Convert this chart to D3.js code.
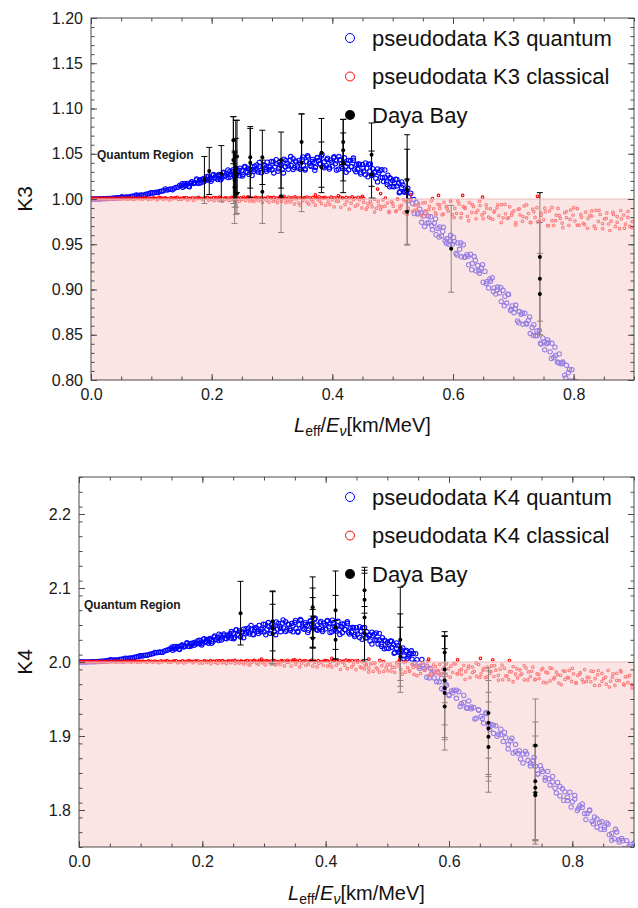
<!DOCTYPE html>
<html>
<head>
<meta charset="utf-8">
<script src="https://cdn.jsdelivr.net/npm/d3@7"></script>
<style>
  body { margin: 0; background: #fff; }
  svg text { font-family: "Liberation Sans", Arial, sans-serif; }
</style>
</head>
<body>
<svg id="chart" width="638" height="908"></svg>
<script>
// ---- data ----
const xTicks = [0, 0.2, 0.4, 0.6, 0.8];
const k3Ticks = [0.80, 0.85, 0.90, 0.95, 1.00, 1.05, 1.10, 1.15, 1.20];
const k4Ticks = [1.8, 1.9, 2.0, 2.1, 2.2];
const k3Legend = ['pseudodata K3 quantum', 'pseudodata K3 classical', 'Daya Bay'];
const k4Legend = ['pseudodata K4 quantum', 'pseudodata K4 classical', 'Daya Bay'];

// pseudodata K3 quantum [L/E, K3]
const k3Quantum = [
  [0,1.0000],[.006,1.0000],[.012,1.0001],[.018,1.0002],[.024,1.0004],[.030,1.0006],[.036,1.0008],[.042,1.0011],[.048,1.0015],[.054,1.0018],
  [.060,1.0023],[.066,1.0027],[.072,1.0033],[.078,1.0038],[.084,1.0045],[.090,1.0051],[.096,1.0058],[.102,1.0066],[.108,1.0074],[.114,1.0082],
  [.120,1.0091],[.126,1.0100],[.132,1.0110],[.138,1.0120],[.144,1.0131],
  [.051,1.0024],[.063,1.0016],[.075,1.0044],[.087,1.0040],[.099,1.0070],[.111,1.0071],[.123,1.0110],[.135,1.0103],[.147,1.0150],
  [.003,1.0000],[.009,1.0001],[.015,1.0001],[.021,1.0003],[.027,1.0005],[.033,1.0007],[.039,1.0010],[.045,1.0013],[.057,1.0020],[.069,1.0030],
  [.081,1.0041],[.093,1.0055],[.105,1.0069],[.117,1.0087],[.129,1.0105],[.141,1.0126],
  [.150,1.0149],[.152,1.0130],[.155,1.0171],[.157,1.0151],[.160,1.0171],[.162,1.0144],[.165,1.0172],[.167,1.0188],[.170,1.0170],[.172,1.0181],
  [.175,1.0211],[.177,1.0175],[.180,1.0209],[.182,1.0179],[.185,1.0213],[.187,1.0227],[.190,1.0207],[.192,1.0246],[.195,1.0209],[.197,1.0227],
  [.200,1.0214],[.202,1.0263],[.205,1.0236],[.207,1.0257],[.210,1.0215],[.212,1.0271],[.215,1.0255],[.217,1.0233],[.220,1.0297],[.222,1.0254],
  [.225,1.0277],[.227,1.0238],[.230,1.0305],[.232,1.0271],[.235,1.0321],[.237,1.0261],[.240,1.0303],[.242,1.0275],[.245,1.0317],[.247,1.0256],
  [.250,1.0317],[.252,1.0270],[.255,1.0353],[.257,1.0301],[.260,1.0340],[.262,1.0272],[.265,1.0326],[.267,1.0358],[.270,1.0306],[.272,1.0323],
  [.275,1.0377],[.277,1.0299],[.280,1.0360],[.282,1.0293],[.285,1.0354],[.287,1.0379],[.290,1.0330],[.292,1.0407],[.295,1.0323],[.297,1.0354],
  [.300,1.0324],[.302,1.0411],[.305,1.0355],[.307,1.0389],[.310,1.0307],[.312,1.0407],[.315,1.0371],[.317,1.0326],[.320,1.0440],[.322,1.0357],
  [.325,1.0392],[.327,1.0328],[.330,1.0429],[.332,1.0371],[.335,1.0445],[.337,1.0349],[.340,1.0410],[.342,1.0365],[.345,1.0426],[.347,1.0329],
  [.350,1.0437],[.352,1.0368],[.355,1.0335],[.357,1.0413],[.360,1.0463],[.362,1.0394],[.365,1.0359],[.367,1.0437],[.370,1.0403],[.372,1.0347],
  [.375,1.0460],[.377,1.0425],[.380,1.0384],[.382,1.0475],[.385,1.0355],[.387,1.0411],[.390,1.0368],[.392,1.0451],[.395,1.0331],[.397,1.0429],
  [.400,1.0365],[.402,1.0455],[.405,1.0389],[.407,1.0423],[.410,1.0330],[.412,1.0433],[.415,1.0389],[.417,1.0338],[.420,1.0455],[.422,1.0362],
  [.425,1.0393],[.427,1.0321],[.430,1.0422],[.432,1.0356],[.435,1.0429],[.437,1.0322],[.440,1.0381],[.442,1.0328],[.445,1.0385],[.447,1.0276],
  [.450,1.0382],[.452,1.0308],[.455,1.0267],[.457,1.0340],[.460,1.0383],[.462,1.0307],[.465,1.0263],[.467,1.0334],[.470,1.0290],[.472,1.0228],
  [.475,1.0331],[.477,1.0290],[.480,1.0239],[.482,1.0323],[.485,1.0192],[.487,1.0241],[.490,1.0188],[.492,1.0264],[.495,1.0134],[.497,1.0224],
  [.500,1.0203],[.502,1.0135],[.505,1.0218],[.507,1.0143],[.510,1.0173],[.512,1.0080],[.515,1.0127],[.517,1.0155],[.520,1.0076],[.522,1.0082],
  [.525,1.0118],[.527,1.0022],[.530,1.0064],
  [.151,1.0169],[.155,1.0140],[.159,1.0163],[.163,1.0136],[.167,1.0191],[.171,1.0176],[.175,1.0222],[.179,1.0173],[.183,1.0215],[.187,1.0190],
  [.191,1.0219],[.195,1.0252],[.199,1.0196],[.203,1.0272],[.207,1.0228],[.211,1.0256],[.215,1.0212],[.219,1.0287],[.223,1.0259],[.227,1.0320],
  [.231,1.0244],[.235,1.0302],[.239,1.0260],[.243,1.0297],[.247,1.0341],[.251,1.0253],[.255,1.0360],[.259,1.0292],[.263,1.0327],[.267,1.0260],
  [.271,1.0363],[.275,1.0320],[.279,1.0403],[.283,1.0293],[.287,1.0370],[.291,1.0306],[.295,1.0356],[.299,1.0416],[.303,1.0288],[.307,1.0435],
  [.311,1.0335],[.315,1.0385],[.319,1.0288],[.323,1.0427],[.327,1.0366],[.331,1.0469],[.335,1.0327],[.339,1.0421],[.343,1.0342],[.347,1.0399],
  [.351,1.0464],[.355,1.0321],[.359,1.0477],[.363,1.0369],[.367,1.0416],[.371,1.0317],[.375,1.0454],[.379,1.0391],[.383,1.0491],[.387,1.0345],
  [.391,1.0435],[.395,1.0351],[.399,1.0405],[.403,1.0466],[.407,1.0318],[.411,1.0469],[.415,1.0357],[.419,1.0400],[.423,1.0295],[.427,1.0427],
  [.431,1.0358],[.435,1.0452],[.439,1.0302],[.443,1.0386],[.447,1.0296],[.451,1.0343],[.455,1.0398],[.459,1.0245],[.463,1.0388],[.467,1.0267],
  [.471,1.0301],[.475,1.0189],[.479,1.0313],[.483,1.0235],[.487,1.0320],[.491,1.0160],[.495,1.0236],[.499,1.0139],[.503,1.0176],[.507,1.0215],
  [.511,1.0070],[.515,1.0189],[.519,1.0076],[.523,1.0094],[.527,0.9982],
  [.533,0.9950],[.536,0.9840],[.539,0.9964],[.542,0.9845],[.545,0.9888],[.548,0.9742],[.551,0.9813],[.554,0.9849],[.557,0.9732],[.560,0.9741],
  [.563,0.9804],[.566,0.9660],[.569,0.9732],[.572,0.9605],[.575,0.9675],[.578,0.9692],[.581,0.9591],[.584,0.9689],[.587,0.9535],[.590,0.9560],
  [.593,0.9499],[.596,0.9599],[.599,0.9502],[.602,0.9530],[.605,0.9397],[.608,0.9515],[.611,0.9444],[.614,0.9361],[.617,0.9495],[.620,0.9358],
  [.623,0.9384],[.626,0.9274],[.629,0.9390],[.632,0.9287],[.635,0.9364],[.638,0.9206],[.641,0.9265],[.644,0.9179],[.647,0.9238],[.650,0.9080],
  [.653,0.9200],[.656,0.9086],[.659,0.9017],[.662,0.9092],[.665,0.9131],[.668,0.9017],[.671,0.8949],[.674,0.9027],[.677,0.8961],[.680,0.8868],
  [.683,0.8991],[.686,0.8925],[.689,0.8850],[.692,0.8945],[.695,0.8770],[.698,0.8819],[.701,0.8743],[.704,0.8828],[.707,0.8653],[.710,0.8756],
  [.713,0.8726],[.716,0.8615],[.719,0.8738],[.722,0.8618],[.725,0.8660],[.728,0.8513],[.731,0.8581],[.734,0.8611],[.737,0.8488],[.740,0.8491],
  [.743,0.8548],[.746,0.8398],[.749,0.8464],[.752,0.8333],[.755,0.8401],[.758,0.8414],[.761,0.8311],[.764,0.8405],[.767,0.8248],[.770,0.8270],
  [.773,0.8198],[.776,0.8288],[.779,0.8180],[.782,0.8198],[.785,0.8054],[.788,0.8162],[.791,0.8080],[.794,0.7989],[.797,0.8113],[.800,0.7968],
  [.803,0.7985],[.806,0.7866],[.809,0.7973],[.812,0.7863],
  [.535,0.9995],[.541,0.9835],[.547,0.9845],[.553,0.9697],[.559,0.9811],[.565,0.9705],[.571,0.9779],[.577,0.9580],[.583,0.9641],[.589,0.9512],
  [.595,0.9537],[.601,0.9575],[.607,0.9382],[.613,0.9515],[.619,0.9356],[.625,0.9368],[.631,0.9218],[.637,0.9323],[.643,0.9208],[.649,0.9273],
  [.655,0.9065],[.661,0.9117],[.667,0.8979],[.673,0.8994],[.679,0.9022],[.685,0.8820],[.691,0.8948],[.697,0.8783],[.703,0.8788],[.709,0.8633],
  [.715,0.8740],[.721,0.8628],[.727,0.8696],[.733,0.8491],[.739,0.8543],[.745,0.8405],[.751,0.8418],[.757,0.8443],[.763,0.8238],[.769,0.8363],
  [.775,0.8190],[.781,0.8186],[.787,0.8022],[.793,0.8117],[.799,0.7990],[.805,0.7958]
];

// pseudodata K3 classical [L/E, K3]
const k3Classical = [
  [0,1.0000],[.005,1.0001],[.010,0.9999],[.015,1.0002],[.020,1.0000],[.025,1.0002],[.030,0.9998],[.035,1.0001],[.040,1.0003],[.045,0.9999],
  [.050,1.0000],[.055,1.0004],[.060,0.9997],[.065,1.0002],[.070,0.9996],[.075,1.0003],[.080,1.0004],[.085,0.9998],[.090,1.0007],[.095,0.9996],
  [.100,1.0001],[.105,1.0006],[.110,0.9993],[.115,1.0008],[.120,0.9998],[.125,1.0005],[.130,0.9990],[.135,1.0002],[.140,1.0009],[.145,0.9995],
  [.150,0.9998],[.155,1.0010],[.160,0.9989],[.165,1.0005],[.170,0.9986],[.175,1.0003],[.180,1.0008],[.185,0.9992],[.190,1.0013],[.195,0.9988],
  [.200,1.0001],[.204,0.9981],[.207,1.0013],[.211,0.9990],[.214,1.0004],[.218,0.9975],[.221,0.9995],[.225,1.0007],[.228,0.9985],[.232,0.9990],
  [.235,1.0008],[.239,0.9980],[.242,0.9999],[.246,0.9975],[.249,0.9994],[.253,1.0002],[.256,0.9984],[.260,1.0009],[.263,0.9979],[.267,0.9989],
  [.270,0.9973],[.274,1.0011],[.277,0.9984],[.281,0.9999],[.284,0.9960],[.288,1.0004],[.291,0.9986],[.295,0.9965],[.298,1.0015],[.302,0.9976],
  [.305,0.9990],[.309,0.9959],[.312,1.0003],[.316,0.9975],[.319,1.0007],[.323,0.9962],[.326,0.9988],[.330,0.9966],[.333,0.9992],[.337,0.9946],
  [.340,1.0002],[.344,0.9956],[.347,0.9932],[.351,0.9981],[.354,1.0013],[.358,0.9966],[.361,0.9943],[.365,0.9992],[.368,0.9969],[.372,0.9932],
  [.375,1.0002],[.379,0.9979],[.382,0.9950],[.386,1.0009],[.389,0.9931],[.393,0.9967],[.396,0.9938],[.400,0.9992],[.403,0.9914],[.407,0.9975],
  [.410,0.9976],[.414,0.9909],[.417,1.0009],[.421,0.9938],[.424,0.9977],[.428,0.9888],[.431,0.9954],[.435,0.9992],[.438,0.9919],[.442,0.9937],
  [.445,0.9992],[.449,0.9901],[.452,0.9965],[.456,0.9886],[.459,0.9950],[.463,0.9974],[.466,0.9914],[.470,0.9997],[.473,0.9898],[.477,0.9930],
  [.480,0.9888],[.484,0.9991],[.487,0.9918],[.491,0.9956],[.494,0.9850],[.498,0.9969],[.501,0.9920],[.505,0.9862],[.508,0.9998],[.512,0.9893],
  [.515,0.9931],[.519,0.9851],[.522,0.9970],[.526,0.9896],[.529,0.9983],[.533,0.9862],[.536,0.9933],[.540,0.9876],[.543,0.9948],[.547,0.9826],
  [.550,0.9958],[.554,0.9869],[.557,0.9824],[.561,0.9920],[.564,0.9980],[.568,0.9892],[.571,0.9846],[.575,0.9942],[.578,0.9896],[.582,0.9825],
  [.585,0.9964],[.589,0.9918],[.592,0.9866],[.596,0.9979],[.599,0.9828],[.603,0.9897],[.606,0.9842],[.610,0.9946],[.613,0.9794],[.617,0.9915],
  [.620,0.9907],[.624,0.9809],[.627,0.9960],[.631,0.9853],[.634,0.9916],[.638,0.9781],[.641,0.9875],[.645,0.9928],[.648,0.9824],[.652,0.9850],
  [.655,0.9936],[.659,0.9799],[.662,0.9892],[.666,0.9776],[.669,0.9867],[.673,0.9903],[.676,0.9815],[.680,0.9937],[.683,0.9792],[.687,0.9837],
  [.690,0.9786],[.694,0.9914],[.697,0.9821],[.701,0.9870],[.704,0.9739],[.708,0.9887],[.711,0.9826],[.715,0.9754],[.718,0.9923],[.722,0.9791],
  [.725,0.9840],[.729,0.9739],[.732,0.9888],[.736,0.9796],[.739,0.9904],[.743,0.9753],[.746,0.9843],[.750,0.9770],[.753,0.9859],[.757,0.9707],
  [.760,0.9869],[.764,0.9762],[.767,0.9708],[.771,0.9822],[.774,0.9896],[.778,0.9787],[.781,0.9734],[.785,0.9848],[.788,0.9795],[.792,0.9710],
  [.795,0.9878],[.799,0.9823],[.802,0.9757],[.806,0.9893],[.809,0.9711],[.813,0.9797],[.816,0.9732],[.820,0.9856],[.823,0.9677],[.827,0.9820],
  [.830,0.9811],[.834,0.9700],[.837,0.9875],[.841,0.9752],[.844,0.9829],[.848,0.9673],[.851,0.9781],[.855,0.9846],[.858,0.9724],[.862,0.9755],
  [.865,0.9852],[.869,0.9697],[.872,0.9806],[.876,0.9672],[.879,0.9782],[.883,0.9823],[.886,0.9723],[.890,0.9864],[.893,0.9697],[.897,0.9751],
  [.003,1.0006],[.008,1.0009],[.013,1.0004],[.018,1.0011],[.023,1.0007],[.028,1.0013],[.033,1.0005],[.038,1.0010],[.043,1.0008],[.048,1.0014],
  [.053,1.0006],[.058,1.0011],[.063,1.0009],[.068,1.0015],[.073,1.0005],[.078,1.0012],[.083,1.0008],[.088,1.0016],[.093,1.0007],[.098,1.0011],
  [.103,1.0013],[.108,1.0006],[.113,1.0017],[.118,1.0009],[.123,1.0012],[.128,1.0005],[.133,1.0015],[.138,1.0010],[.143,1.0018],[.148,1.0007],
  [.153,1.0012],[.158,1.0016],[.163,1.0006],[.168,1.0014],[.173,1.0010],[.178,1.0019],[.183,1.0008],[.188,1.0013],[.193,1.0017],[.198,1.0006],
  [.203,1.0015],[.208,1.0010],[.213,1.0020],[.218,1.0008],[.223,1.0014],[.228,1.0011],[.233,1.0018],[.238,1.0007],[.243,1.0016],[.248,1.0012],
  [.253,1.0021],[.258,1.0009],[.263,1.0015],[.268,1.0006],[.273,1.0019],[.278,1.0012],[.283,1.0016],[.288,1.0008],[.293,1.0022],[.298,1.0011],
  [.303,1.0017],[.308,1.0009],[.313,1.0020],[.318,1.0013],[.323,1.0007],[.328,1.0018],[.333,1.0012],[.338,1.0023],[.343,1.0010],[.348,1.0016],
  [.353,1.0008],[.358,1.0021],[.363,1.0013],[.368,1.0017],[.373,1.0009],[.378,1.0024],[.383,1.0012],[.388,1.0018],[.393,1.0007],[.398,1.0020],
  [.403,1.0014],[.408,1.0010],[.413,1.0022],[.418,1.0008],[.423,1.0017],[.428,1.0012],[.433,1.0025],[.438,1.0009],[.443,1.0019],[.448,1.0013],
  [.452,1.0007],[.458,0.9909],[.464,0.9946],[.470,0.9856],[.476,0.9974],[.482,0.9915],[.488,1.0011],[.494,0.9863],[.500,0.9952],[.506,0.9868],
  [.512,0.9921],[.518,0.9990],[.524,0.9828],[.530,0.9996],[.536,0.9874],[.542,0.9922],[.548,0.9811],[.554,0.9959],[.560,0.9885],[.566,1.0005],
  [.572,0.9826],[.578,0.9936],[.584,0.9834],[.590,0.9899],[.596,0.9974],[.602,0.9795],[.608,0.9979],[.614,0.9840],[.620,0.9896],[.626,0.9760],
  [.632,0.9937],[.638,0.9849],[.644,0.9978],[.650,0.9782],[.656,0.9898],[.662,0.9787],[.668,0.9855],[.674,0.9936],[.680,0.9740],[.686,0.9940],
  [.692,0.9793],[.698,0.9849],[.704,0.9714],[.710,0.9892],[.716,0.9806],[.722,0.9935],[.728,0.9741],[.734,0.9858],[.740,0.9748],[.746,0.9818],
  [.752,0.9899],[.758,0.9705],[.764,0.9907],[.770,0.9760],[.776,0.9818],[.782,0.9683],[.788,0.9861],[.794,0.9774],[.800,0.9904],[.806,0.9710],
  [.812,0.9827],[.818,0.9717],[.824,0.9786],[.830,0.9868],[.836,0.9674],[.842,0.9875],[.848,0.9729],[.854,0.9786],[.860,0.9652],[.866,0.9830],
  [.872,0.9743],[.878,0.9873],[.884,0.9678],[.890,0.9796],[.896,0.9686],
  [.260,1.0025],[.320,1.0030],[.372,1.0045],[.410,1.0035],[.450,1.0030],[.475,1.0110],[.480,1.0060],[.530,1.0050],[.576,1.0040],[.616,1.0040],
  [.649,1.0020],[.740,1.0030]
];

// Daya Bay K3 [L/E, K3, error]
const k3Daya = [
  [.188,1.021,.026],[.196,1.031,.026],[.216,1.028,.031],
  [.236,1.043,.048],[.236,1.065,.026],[.238,1.021,.030],[.238,1.013,.040],[.240,1.035,.052],[.240,1.029,.038],[.242,1.047,.040],[.242,1.006,.022],
  [.264,1.046,.034],[.264,1.040,.038],[.284,1.046,.030],[.284,1.008,.035],[.315,1.043,.031],[.315,1.003,.040],
  [.349,1.063,.031],[.349,1.040,.054],[.382,1.051,.038],[.382,1.035,.028],
  [.418,1.063,.025],[.418,1.054,.034],[.418,1.040,.033],[.465,1.049,.035],[.465,1.027,.026],
  [.524,1.010,.061],[.524,1.021,.034],[.524,0.986,.036],[.597,0.945,.048],
  [.744,0.936,.071],[.744,0.912,.062],[.744,0.895,.045]
];

// pseudodata K4 quantum [L/E, K4]
const k4Quantum = [
  [0,2.0000],[.006,2.0000],[.012,2.0001],[.018,2.0002],[.024,2.0004],[.030,2.0007],[.036,2.0010],[.042,2.0014],[.048,2.0019],[.054,2.0024],
  [.060,2.0029],[.066,2.0035],[.072,2.0042],[.078,2.0049],[.084,2.0056],[.090,2.0065],[.096,2.0074],[.102,2.0082],[.108,2.0092],[.114,2.0103],
  [.120,2.0113],[.126,2.0126],[.132,2.0134],[.138,2.0147],[.144,2.0161],
  [.051,2.0030],[.063,2.0025],[.075,2.0052],[.087,2.0053],[.099,2.0085],[.111,2.0091],[.123,2.0128],[.135,2.0130],[.147,2.0175],
  [.003,2.0000],[.009,2.0001],[.015,2.0002],[.021,2.0003],[.027,2.0005],[.033,2.0008],[.039,2.0012],[.045,2.0016],[.057,2.0026],[.069,2.0038],
  [.081,2.0052],[.093,2.0069],[.105,2.0087],[.117,2.0108],[.129,2.0131],[.141,2.0156],
  [.150,2.0183],[.152,2.0159],[.155,2.0210],[.157,2.0183],[.160,2.0209],[.162,2.0174],[.165,2.0208],[.167,2.0229],[.170,2.0204],[.172,2.0216],
  [.175,2.0247],[.177,2.0212],[.180,2.0246],[.182,2.0217],[.185,2.0250],[.187,2.0264],[.190,2.0244],[.192,2.0284],[.195,2.0247],[.197,2.0265],
  [.200,2.0249],[.202,2.0308],[.205,2.0276],[.207,2.0301],[.210,2.0252],[.212,2.0319],[.215,2.0300],[.217,2.0275],[.220,2.0352],[.222,2.0301],
  [.225,2.0328],[.227,2.0290],[.230,2.0359],[.232,2.0326],[.235,2.0378],[.237,2.0319],[.240,2.0363],[.242,2.0337],[.245,2.0381],[.247,2.0322],
  [.250,2.0388],[.252,2.0332],[.255,2.0434],[.257,2.0372],[.260,2.0420],[.262,2.0339],[.265,2.0404],[.267,2.0442],[.270,2.0381],[.272,2.0402],
  [.275,2.0461],[.277,2.0379],[.280,2.0444],[.282,2.0375],[.285,2.0438],[.287,2.0465],[.290,2.0415],[.292,2.0495],[.295,2.0409],[.297,2.0441],
  [.300,2.0407],[.302,2.0507],[.305,2.0442],[.307,2.0482],[.310,2.0387],[.312,2.0502],[.315,2.0460],[.317,2.0409],[.320,2.0540],[.322,2.0444],
  [.325,2.0484],[.327,2.0410],[.330,2.0526],[.332,2.0459],[.335,2.0544],[.337,2.0433],[.340,2.0503],[.342,2.0451],[.345,2.0521],[.347,2.0409],
  [.350,2.0533],[.352,2.0454],[.355,2.0416],[.357,2.0505],[.360,2.0562],[.362,2.0483],[.365,2.0443],[.367,2.0532],[.370,2.0493],[.372,2.0429],
  [.375,2.0558],[.377,2.0518],[.380,2.0471],[.382,2.0575],[.385,2.0438],[.387,2.0502],[.390,2.0453],[.392,2.0548],[.395,2.0411],[.397,2.0523],
  [.400,2.0450],[.402,2.0552],[.405,2.0477],[.407,2.0515],[.410,2.0408],[.412,2.0526],[.415,2.0475],[.417,2.0417],[.420,2.0550],[.422,2.0443],
  [.425,2.0479],[.427,2.0396],[.430,2.0511],[.432,2.0436],[.435,2.0520],[.437,2.0397],[.440,2.0464],[.442,2.0403],[.445,2.0468],[.447,2.0343],
  [.450,2.0463],[.452,2.0378],[.455,2.0331],[.457,2.0414],[.460,2.0462],[.462,2.0375],[.465,2.0325],[.467,2.0406],[.470,2.0355],[.472,2.0284],
  [.475,2.0402],[.477,2.0355],[.480,2.0296],[.482,2.0392],[.485,2.0244],[.487,2.0300],[.490,2.0240],[.492,2.0328],[.495,2.0180],[.497,2.0284],
  [.500,2.0261],[.502,2.0183],[.505,2.0283],[.507,2.0198],[.510,2.0235],[.512,2.0129],[.515,2.0187],[.517,2.0221],[.520,2.0132],[.522,2.0143],
  [.525,2.0191],[.527,2.0083],[.530,2.0138],[.532,2.0044],[.535,2.0099],[.537,2.0117],[.540,2.0039],[.542,2.0116],[.545,1.9990],
  [.151,2.0203],[.155,2.0174],[.159,2.0198],[.163,2.0170],[.167,2.0227],[.171,2.0212],[.175,2.0260],[.179,2.0209],[.183,2.0253],[.187,2.0225],
  [.191,2.0256],[.195,2.0293],[.199,2.0231],[.203,2.0316],[.207,2.0268],[.211,2.0300],[.215,2.0252],[.219,2.0337],[.223,2.0308],[.227,2.0377],
  [.231,2.0296],[.235,2.0361],[.239,2.0315],[.243,2.0359],[.247,2.0411],[.251,2.0315],[.255,2.0437],[.259,2.0363],[.263,2.0406],[.267,2.0329],
  [.271,2.0449],[.275,2.0401],[.279,2.0495],[.283,2.0369],[.287,2.0458],[.291,2.0386],[.295,2.0443],[.299,2.0512],[.303,2.0367],[.307,2.0533],
  [.311,2.0421],[.315,2.0475],[.319,2.0369],[.323,2.0522],[.327,2.0455],[.331,2.0568],[.335,2.0411],[.339,2.0514],[.343,2.0427],[.347,2.0489],
  [.351,2.0561],[.355,2.0403],[.359,2.0575],[.363,2.0456],[.367,2.0507],[.371,2.0398],[.375,2.0549],[.379,2.0480],[.383,2.0590],[.387,2.0428],
  [.391,2.0527],[.395,2.0436],[.399,2.0495],[.403,2.0562],[.407,2.0398],[.411,2.0564],[.415,2.0440],[.419,2.0486],[.423,2.0371],[.427,2.0515],
  [.431,2.0439],[.435,2.0543],[.439,2.0377],[.443,2.0468],[.447,2.0368],[.451,2.0418],[.455,2.0478],[.459,2.0308],[.463,2.0465],[.467,2.0331],
  [.471,2.0367],[.475,2.0243],[.479,2.0379],[.483,2.0293],[.487,2.0387],[.491,2.0211],[.495,2.0295],[.499,2.0189],[.503,2.0233],[.507,2.0280],
  [.511,2.0119],[.515,2.0257],[.519,2.0132],[.523,2.0159],[.527,2.0039],[.531,2.0155],[.535,2.0071],[.539,2.0151],[.543,1.9980],
  [.548,2.0031],[.552,1.9915],[.556,2.0035],[.560,1.9912],[.564,1.9943],[.568,1.9785],[.572,1.9843],[.576,1.9865],[.580,1.9734],[.584,1.9731],
  [.588,1.9782],[.592,1.9626],[.596,1.9686],[.600,1.9548],[.604,1.9610],[.608,1.9618],[.612,1.9509],[.616,1.9598],[.620,1.9435],[.624,1.9454],
  [.628,1.9383],[.632,1.9474],[.636,1.9367],[.640,1.9386],[.644,1.9241],[.648,1.9348],[.652,1.9266],[.656,1.9175],[.660,1.9300],[.664,1.9149],
  [.668,1.9160],[.672,1.9036],[.676,1.9137],[.680,1.9022],[.684,1.9091],[.688,1.8926],[.692,1.8977],[.696,1.8884],[.700,1.8935],[.704,1.8770],
  [.708,1.8884],[.712,1.8764],[.716,1.8689],[.720,1.8758],[.724,1.8791],[.728,1.8671],[.732,1.8596],[.736,1.8665],[.740,1.8590],[.744,1.8486],
  [.748,1.8598],[.752,1.8521],[.756,1.8435],[.760,1.8520],[.764,1.8337],[.768,1.8379],[.772,1.8295],[.776,1.8373],[.780,1.8190],[.784,1.8286],
  [.788,1.8247],[.792,1.8127],[.796,1.8241],[.800,1.8112],[.804,1.8147],[.808,1.7993],[.812,1.8055],[.816,1.8081],[.820,1.7954],[.824,1.7951],
  [.828,1.8002],[.832,1.7846],[.836,1.7906],[.840,1.7768],[.844,1.7832],[.848,1.7842],[.852,1.7735],[.856,1.7826],[.860,1.7665],[.864,1.7684],
  [.868,1.7613],[.872,1.7704],[.876,1.7597],[.880,1.7616],[.884,1.7475],[.888,1.7586],[.892,1.7508],[.896,1.7421],[.900,1.7550],
  [.546,2.0112],[.552,1.9939],[.558,1.9959],[.564,1.9793],[.570,1.9911],[.576,1.9785],[.582,1.9860],[.588,1.9638],[.594,1.9704],[.600,1.9559],
  [.606,1.9584],[.612,1.9619],[.618,1.9400],[.624,1.9548],[.630,1.9376],[.636,1.9393],[.642,1.9231],[.648,1.9355],[.654,1.9235],[.660,1.9315],
  [.666,1.9087],[.672,1.9147],[.678,1.8996],[.684,1.9016],[.690,1.9048],[.696,1.8826],[.702,1.8969],[.708,1.8791],[.714,1.8802],[.720,1.8635],
  [.726,1.8756],[.732,1.8633],[.738,1.8710],[.744,1.8486],[.750,1.8549],[.756,1.8401],[.762,1.8421],[.768,1.8453],[.774,1.8231],[.780,1.8319],
  [.786,1.8130],[.792,1.8173],[.798,1.8040],[.804,1.8196],[.810,1.8021],[.816,1.8035],[.822,1.7870],[.828,1.7991],[.834,1.7813],[.840,1.7879],
  [.846,1.7740],[.852,1.7768],[.858,1.7806],[.864,1.7590],[.870,1.7739],[.876,1.7567],[.882,1.7585],[.888,1.7427],[.894,1.7535],[.900,1.7399]
];

// pseudodata K4 classical [L/E, K4]
const k4Classical = [
  [0,2.0000],[.005,2.0001],[.010,1.9999],[.015,2.0002],[.020,2.0000],[.025,2.0001],[.030,1.9998],[.035,2.0002],[.040,2.0003],[.045,1.9999],
  [.050,2.0000],[.055,2.0004],[.060,1.9997],[.065,2.0003],[.070,1.9996],[.075,2.0002],[.080,2.0005],[.085,1.9998],[.090,2.0006],[.095,1.9996],
  [.100,2.0001],[.105,2.0007],[.110,1.9993],[.115,2.0007],[.120,1.9998],[.125,2.0004],[.130,1.9991],[.135,2.0003],[.140,2.0009],[.145,1.9994],
  [.150,1.9999],[.155,2.0011],[.160,1.9989],[.165,2.0004],[.170,1.9987],[.175,2.0002],[.180,2.0009],[.185,1.9991],[.190,2.0012],[.195,1.9988],
  [.200,1.9986],[.204,2.0012],[.207,1.9994],[.211,2.0004],[.214,1.9978],[.218,2.0008],[.221,1.9996],[.225,1.9982],[.228,2.0016],[.232,1.9990],
  [.235,1.9998],[.239,1.9978],[.242,2.0008],[.246,1.9990],[.249,2.0012],[.253,1.9982],[.256,2.0000],[.260,1.9986],[.263,2.0004],[.267,1.9974],
  [.270,2.0013],[.274,1.9978],[.277,1.9959],[.281,1.9998],[.284,2.0023],[.288,1.9986],[.291,1.9969],[.295,2.0008],[.298,1.9990],[.302,1.9962],
  [.305,2.0017],[.309,1.9999],[.312,1.9977],[.316,2.0022],[.319,1.9961],[.323,1.9989],[.326,1.9967],[.330,2.0009],[.333,1.9948],[.337,1.9997],
  [.340,1.9997],[.344,1.9946],[.347,2.0026],[.351,1.9970],[.354,2.0004],[.358,1.9933],[.361,1.9983],[.365,2.0012],[.368,1.9956],[.372,1.9971],
  [.375,2.0015],[.379,1.9944],[.382,1.9994],[.386,1.9933],[.389,1.9982],[.393,2.0001],[.396,1.9956],[.400,2.0020],[.403,1.9944],[.407,1.9967],
  [.410,1.9933],[.414,2.0016],[.417,1.9956],[.421,1.9988],[.424,1.9901],[.428,1.9998],[.431,1.9958],[.435,1.9910],[.438,2.0020],[.442,1.9933],
  [.445,1.9965],[.449,1.9898],[.452,1.9995],[.456,1.9935],[.459,2.0005],[.463,1.9906],[.466,1.9964],[.470,1.9916],[.473,1.9974],[.477,1.9874],
  [.480,1.9986],[.484,1.9904],[.487,1.9863],[.491,1.9950],[.494,2.0004],[.498,1.9923],[.501,1.9882],[.505,1.9968],[.508,1.9927],[.512,1.9861],
  [.515,1.9988],[.519,1.9946],[.522,1.9897],[.526,2.0000],[.529,1.9862],[.533,1.9925],[.536,1.9876],[.540,1.9970],[.543,1.9833],[.547,1.9943],
  [.550,1.9937],[.554,1.9845],[.557,1.9988],[.561,1.9888],[.564,1.9949],[.568,1.9822],[.571,1.9911],[.575,1.9963],[.578,1.9863],[.582,1.9888],
  [.585,1.9968],[.589,1.9840],[.592,1.9929],[.596,1.9820],[.599,1.9908],[.603,1.9943],[.606,1.9861],[.610,1.9976],[.613,1.9840],[.617,1.9883],
  [.620,1.9834],[.624,1.9956],[.627,1.9869],[.631,1.9916],[.634,1.9790],[.638,1.9932],[.641,1.9874],[.645,1.9805],[.648,1.9966],[.652,1.9840],
  [.655,1.9887],[.659,1.9790],[.662,1.9932],[.666,1.9845],[.669,1.9948],[.673,1.9804],[.676,1.9889],[.680,1.9820],[.683,1.9905],[.687,1.9760],
  [.690,1.9914],[.694,1.9812],[.697,1.9761],[.701,1.9870],[.704,1.9938],[.708,1.9836],[.711,1.9785],[.715,1.9893],[.718,1.9841],[.722,1.9759],
  [.725,1.9918],[.729,1.9866],[.732,1.9804],[.736,1.9932],[.739,1.9761],[.743,1.9839],[.746,1.9777],[.750,1.9895],[.753,1.9724],[.757,1.9862],
  [.760,1.9852],[.764,1.9744],[.767,1.9912],[.771,1.9794],[.774,1.9866],[.778,1.9716],[.781,1.9821],[.785,1.9882],[.788,1.9764],[.792,1.9793],
  [.795,1.9887],[.799,1.9738],[.802,1.9841],[.806,1.9714],[.809,1.9817],[.813,1.9858],[.816,1.9762],[.820,1.9897],[.823,1.9738],[.827,1.9789],
  [.830,1.9733],[.834,1.9874],[.837,1.9774],[.841,1.9828],[.844,1.9683],[.848,1.9847],[.851,1.9780],[.855,1.9701],[.858,1.9887],[.862,1.9742],
  [.865,1.9796],[.869,1.9684],[.872,1.9848],[.876,1.9748],[.879,1.9867],[.883,1.9701],[.886,1.9799],[.890,1.9720],[.893,1.9818],[.897,1.9651],
  [.003,2.0006],[.008,2.0009],[.013,2.0004],[.018,2.0011],[.023,2.0007],[.028,2.0013],[.033,2.0005],[.038,2.0010],[.043,2.0008],[.048,2.0014],
  [.053,2.0006],[.058,2.0011],[.063,2.0009],[.068,2.0015],[.073,2.0005],[.078,2.0012],[.083,2.0008],[.088,2.0016],[.093,2.0007],[.098,2.0011],
  [.103,2.0013],[.108,2.0006],[.113,2.0017],[.118,2.0009],[.123,2.0012],[.128,2.0005],[.133,2.0015],[.138,2.0010],[.143,2.0018],[.148,2.0007],
  [.153,2.0012],[.158,2.0016],[.163,2.0006],[.168,2.0014],[.173,2.0010],[.178,2.0019],[.183,2.0008],[.188,2.0013],[.193,2.0017],[.198,2.0006],
  [.203,2.0015],[.208,2.0010],[.213,2.0020],[.218,2.0008],[.223,2.0014],[.228,2.0011],[.233,2.0018],[.238,2.0007],[.243,2.0016],[.248,2.0012],
  [.253,2.0021],[.258,2.0009],[.263,2.0015],[.268,2.0006],[.273,2.0019],[.278,2.0012],[.283,2.0016],[.288,2.0008],[.293,2.0022],[.298,2.0011],
  [.303,2.0017],[.308,2.0009],[.313,2.0020],[.318,2.0013],[.323,2.0007],[.328,2.0018],[.333,2.0012],[.338,2.0023],[.343,2.0010],[.348,2.0016],
  [.353,2.0008],[.358,2.0021],[.363,2.0013],[.368,2.0017],[.373,2.0009],[.378,2.0024],[.383,2.0012],[.388,2.0018],[.393,2.0007],[.398,2.0020],
  [.403,2.0014],[.408,2.0010],[.413,2.0022],[.418,2.0008],[.423,2.0017],[.428,2.0012],[.433,2.0025],[.438,2.0009],[.443,2.0019],[.448,2.0013],
  [.452,2.0019],[.458,1.9921],[.464,1.9958],[.470,1.9866],[.476,1.9984],[.482,1.9925],[.488,2.0021],[.494,1.9873],[.500,1.9962],[.506,1.9878],
  [.512,1.9930],[.518,1.9998],[.524,1.9835],[.530,2.0003],[.536,1.9881],[.542,1.9928],[.548,1.9816],[.554,1.9963],[.560,1.9889],[.566,2.0009],
  [.572,1.9829],[.578,1.9938],[.584,1.9835],[.590,1.9900],[.596,1.9975],[.602,1.9795],[.608,1.9981],[.614,1.9842],[.620,1.9900],[.626,1.9766],
  [.632,1.9943],[.638,1.9857],[.644,1.9986],[.650,1.9792],[.656,1.9910],[.662,1.9799],[.668,1.9869],[.674,1.9950],[.680,1.9756],[.686,1.9958],
  [.692,1.9811],[.698,1.9869],[.704,1.9734],[.710,1.9911],[.716,1.9824],[.722,1.9953],[.728,1.9758],[.734,1.9875],[.740,1.9764],[.746,1.9833],
  [.752,1.9914],[.758,1.9719],[.764,1.9920],[.770,1.9773],[.776,1.9830],[.782,1.9695],[.788,1.9872],[.794,1.9785],[.800,1.9914],[.806,1.9720],
  [.812,1.9837],[.818,1.9727],[.824,1.9796],[.830,1.9878],[.836,1.9684],[.842,1.9885],[.848,1.9739],[.854,1.9796],[.860,1.9662],[.866,1.9840],
  [.872,1.9753],[.878,1.9883],[.884,1.9688],[.890,1.9806],[.896,1.9696],
  [.296,2.0040],[.350,2.0030],[.410,2.0050],[.470,2.0040],[.520,2.0030],[.567,2.0040],[.614,2.0030],[.651,2.0050],[.671,2.0030],[.698,2.0020]
];

// Daya Bay K4 [L/E, K4, error]
const k4Daya = [
  [.262,2.066,.043],
  [.314,2.055,.040],[.314,2.038,.040],[.314,2.046,.050],
  [.379,2.074,.041],[.379,2.060,.040],[.379,2.053,.034],[.379,2.045,.026],[.379,2.032,.030],
  [.416,2.070,.053],[.416,2.047,.043],[.416,2.030,.026],
  [.463,2.097,.031],[.463,2.084,.040],[.463,2.060,.060],[.463,2.039,.036],
  [.521,2.030,.071],[.521,2.020,.045],[.521,2.007,.040],
  [.593,2.013,.028],[.593,1.990,.045],[.593,1.975,.060],[.593,1.965,.070],[.593,1.958,.060],[.593,1.940,.059],
  [.664,1.931,.061],[.664,1.918,.070],[.664,1.910,.065],[.664,1.899,.060],[.664,1.885,.061],
  [.740,1.887,.063],[.740,1.839,.080],[.740,1.830,.070],[.740,1.823,.065],[.740,1.820,.066]
];

// ---- drawing ----
const svg = d3.select('#chart');
const AXIS_COLOR = '#4a4a4a';
const FONT = '"Liberation Sans", Arial, sans-serif';

function drawPanel(p) {
  const x = d3.scaleLinear().domain([0, 0.9]).range([p.left, p.right]);
  const y = d3.scaleLinear().domain(p.yDomain).range([p.bottom, p.top]);
  const w = p.right - p.left;
  const h = p.bottom - p.top;

  svg.append('clipPath').attr('id', 'clip-' + p.id)
    .append('rect').attr('x', p.left).attr('y', p.top).attr('width', w).attr('height', h);

  const plot = svg.append('g').attr('clip-path', `url(#clip-${p.id})`);

  // quantum pseudodata: open blue circles
  plot.append('g').selectAll('circle').data(p.quantum).join('circle')
    .attr('cx', d => x(d[0])).attr('cy', d => y(d[1])).attr('r', 2.2)
    .attr('fill', 'none').attr('stroke', '#0000ff').attr('stroke-width', 1.05);

  // classical pseudodata: small red circles
  plot.append('g').selectAll('circle').data(p.classical).join('circle')
    .attr('cx', d => x(d[0])).attr('cy', d => y(d[1])).attr('r', 1.3)
    .attr('fill', 'none').attr('stroke', '#ff0000').attr('stroke-width', 1.1);

  // Daya Bay error bars
  const bars = plot.append('g').attr('stroke', '#000').attr('stroke-width', 1);
  bars.selectAll('line.v').data(p.daya).join('line').attr('class', 'v')
    .attr('x1', d => x(d[0])).attr('x2', d => x(d[0]))
    .attr('y1', d => y(d[1] - d[2])).attr('y2', d => y(d[1] + d[2]));
  const caps = p.daya.flatMap(d => [[d[0], d[1] + d[2]], [d[0], d[1] - d[2]]]);
  bars.selectAll('line.c').data(caps).join('line').attr('class', 'c')
    .attr('x1', d => x(d[0]) - 3).attr('x2', d => x(d[0]) + 3)
    .attr('y1', d => y(d[1])).attr('y2', d => y(d[1]));

  // classical region shading (drawn over the points below the base line)
  plot.append('rect')
    .attr('x', p.left).attr('y', y(p.base)).attr('width', w).attr('height', p.bottom - y(p.base))
    .attr('fill', 'rgb(248,210,210)').attr('fill-opacity', 0.6);
  plot.append('line')
    .attr('x1', p.left).attr('x2', p.right).attr('y1', y(p.base)).attr('y2', y(p.base))
    .attr('stroke', '#ebbcbc').attr('stroke-width', 1);

  // Daya Bay points
  plot.append('g').selectAll('circle').data(p.daya).join('circle')
    .attr('cx', d => x(d[0])).attr('cy', d => y(d[1])).attr('r', 2).attr('fill', '#000');

  // frame
  svg.append('rect').attr('x', p.left).attr('y', p.top).attr('width', w).attr('height', h)
    .attr('fill', 'none').attr('stroke', AXIS_COLOR).attr('stroke-width', 1);

  function addAxis(gen, tx, ty) {
    const g = svg.append('g').attr('transform', `translate(${tx},${ty})`).call(gen);
    g.select('.domain').remove();
    g.selectAll('line').attr('stroke', AXIS_COLOR);
    g.selectAll('text').attr('font-size', 16).attr('font-family', FONT).attr('fill', '#1a1a1a');
    return g;
  }
  const xMinor = d3.range(0, 0.901, 0.05);
  const yMinor = d3.range(p.yDomain[0], p.yDomain[1] + 1e-9, p.yMinorStep);

  addAxis(d3.axisBottom(x).tickValues(xMinor).tickSize(-3.5).tickFormat(''), 0, p.bottom);
  addAxis(d3.axisTop(x).tickValues(xMinor).tickSize(-3.5).tickFormat(''), 0, p.top);
  addAxis(d3.axisBottom(x).tickValues(xTicks).tickSize(-6).tickPadding(9).tickFormat(d3.format('.1f')), 0, p.bottom);
  addAxis(d3.axisTop(x).tickValues(xTicks).tickSize(-6).tickFormat(''), 0, p.top);

  addAxis(d3.axisLeft(y).tickValues(yMinor).tickSize(-3.5).tickFormat(''), p.left, 0);
  addAxis(d3.axisRight(y).tickValues(yMinor).tickSize(-3.5).tickFormat(''), p.right, 0);
  addAxis(d3.axisLeft(y).tickValues(p.yTicks).tickSize(-6).tickPadding(8).tickFormat(d3.format(p.yFormat)), p.left, 0);
  addAxis(d3.axisRight(y).tickValues(p.yTicks).tickSize(-6).tickFormat(''), p.right, 0);

  // axis titles
  svg.append('text')
    .attr('transform', `translate(24,${(p.top + p.bottom) / 2}) rotate(-90)`)
    .attr('text-anchor', 'middle').attr('dominant-baseline', 'central')
    .attr('font-size', 21).attr('fill', '#111').text(p.yLabel);

  const xl = svg.append('text')
    .attr('x', (p.left + p.right) / 2).attr('y', p.xLabelY)
    .attr('text-anchor', 'middle').attr('font-size', 20).attr('fill', '#111');
  xl.append('tspan').attr('font-style', 'italic').text('L');
  xl.append('tspan').attr('font-size', 14).attr('dy', 4).text('eff');
  xl.append('tspan').attr('dy', -4).text('/');
  xl.append('tspan').attr('font-style', 'italic').text('E');
  xl.append('tspan').attr('font-size', 14).attr('font-style', 'italic').attr('dy', 4).text('ν');
  xl.append('tspan').attr('dy', -4).text('[km/MeV]');

  // region label
  svg.append('text').attr('x', p.regionX).attr('y', p.regionY)
    .attr('font-family', '"DejaVu Sans", sans-serif').attr('font-weight', 'bold')
    .attr('font-size', 12).attr('fill', '#1a1a1a').text('Quantum Region');

  // legend
  const lg = svg.append('g');
  p.legend.forEach((label, i) => {
    const cy = p.legendTop + i * 38.5;
    const sym = lg.append('circle').attr('cx', 350).attr('cy', cy);
    if (i === 0) sym.attr('r', 4.5).attr('fill', 'none').attr('stroke', '#0000ff').attr('stroke-width', 1);
    else if (i === 1) sym.attr('r', 4.5).attr('fill', 'none').attr('stroke', '#ff0000').attr('stroke-width', 1);
    else sym.attr('r', 5).attr('fill', '#000');
    lg.append('text').attr('x', 372).attr('y', cy + 7.5)
      .attr('font-size', 22).attr('fill', '#111').text(label);
  });
}

drawPanel({
  id: 'k3', left: 91, right: 634, top: 18, bottom: 380,
  yDomain: [0.8, 1.2], yTicks: k3Ticks, yMinorStep: 0.01, yFormat: '.2f', base: 1.0,
  quantum: k3Quantum, classical: k3Classical, daya: k3Daya,
  yLabel: 'K3', xLabelY: 432, regionX: 97, regionY: 159,
  legend: k3Legend, legendTop: 38
});

drawPanel({
  id: 'k4', left: 79, right: 634, top: 477, bottom: 847,
  yDomain: [1.75, 2.25], yTicks: k4Ticks, yMinorStep: 0.02, yFormat: '.1f', base: 2.0,
  quantum: k4Quantum, classical: k4Classical, daya: k4Daya,
  yLabel: 'K4', xLabelY: 900, regionX: 84, regionY: 609,
  legend: k4Legend, legendTop: 497
});
</script>
</body>
</html>
